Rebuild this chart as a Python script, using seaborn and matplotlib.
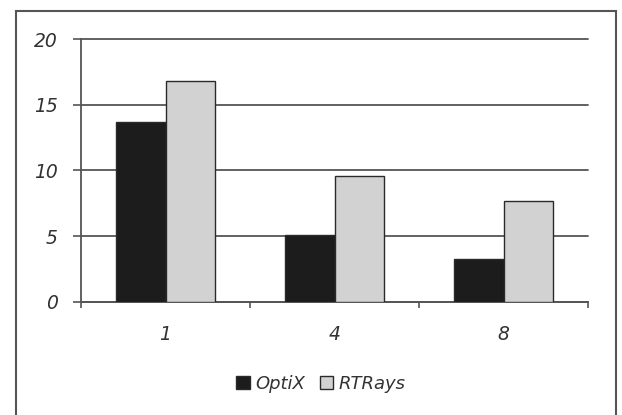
import matplotlib
matplotlib.use("Agg")
import matplotlib.pyplot as plt
import seaborn as sns
import pandas as pd
from matplotlib.patches import Rectangle

# Speed-up per thread count
categories = ["1", "4", "8"]
optix = [13.7, 5.1, 3.25]
rtrays = [16.85, 9.6, 7.65]
series_names = ["OptiX", "RTRays"]
y_ticks = [0, 5, 10, 15, 20]

df = pd.DataFrame({
    "threads": categories * 2,
    "value": optix + rtrays,
    "renderer": [series_names[0]] * len(categories) + [series_names[1]] * len(categories),
})

sns.set_theme(style="white")
plt.rcParams["font.family"] = ["DejaVu Sans"]
plt.rcParams["font.style"] = "italic"

fig = plt.figure(figsize=(6.22, 4.15), dpi=100)
ax = fig.add_axes([81 / 622, 1 - 301.7 / 415, (588 - 81) / 622, (301.7 - 39.3) / 415])

text_color = "#333333"
grid_color = "#555555"

sns.barplot(
    data=df, x="threads", y="value", hue="renderer",
    palette={"OptiX": "#1c1c1c", "RTRays": "#d2d2d2"},
    width=0.58, gap=0, edgecolor="#2a2a2a", linewidth=1.0,
    ax=ax, legend=True, zorder=3,
)

ax.set_ylim(0, 20)
ax.set_xlim(-0.5, 2.5)
ax.set_yticks(y_ticks)
ax.set_yticklabels([str(v) for v in y_ticks], fontsize=13.5, color=text_color, style="italic")
ax.set_xticks(range(len(categories)))
ax.set_xticklabels(categories, fontsize=13.5, color=text_color, style="italic")
ax.set_xticks([-0.5, 0.5, 1.5, 2.5], minor=True)
ax.tick_params(axis="x", which="major", length=0, pad=17)
ax.tick_params(axis="x", which="minor", length=4.5, width=1.2, color=grid_color, direction="out", bottom=True)
ax.tick_params(axis="y", which="major", length=5.8, width=1.2, color=grid_color, direction="out", left=True, pad=11)
ax.set_xlabel("")
ax.set_ylabel("")

ax.yaxis.grid(True, color=grid_color, linewidth=1.3, zorder=0)
for gl in ax.get_ygridlines():
    gl.set_clip_on(False)
ax.set_axisbelow(True)
for side in ["top", "right"]:
    ax.spines[side].set_visible(False)
for side in ["left", "bottom"]:
    ax.spines[side].set_color(grid_color)
    ax.spines[side].set_linewidth(1.3)

handles, labels = ax.get_legend_handles_labels()
ax.legend(
    handles, labels, loc="center", bbox_to_anchor=(321 / 622, 1 - 384 / 415),
    bbox_transform=fig.transFigure, ncol=2, frameon=False,
    prop={"size": 13, "style": "italic"}, labelcolor=text_color,
    handlelength=0.75, handleheight=0.75, handletextpad=0.3, columnspacing=0.8,
)

# Outer frame around the chart area
fig.patches.append(Rectangle(
    (16 / 622, -0.1), (616 - 16) / 622, 1.1 - 11 / 415,
    transform=fig.transFigure, fill=False, edgecolor="#555555", linewidth=1.5,
))

fig.savefig("out.png", dpi=100)
